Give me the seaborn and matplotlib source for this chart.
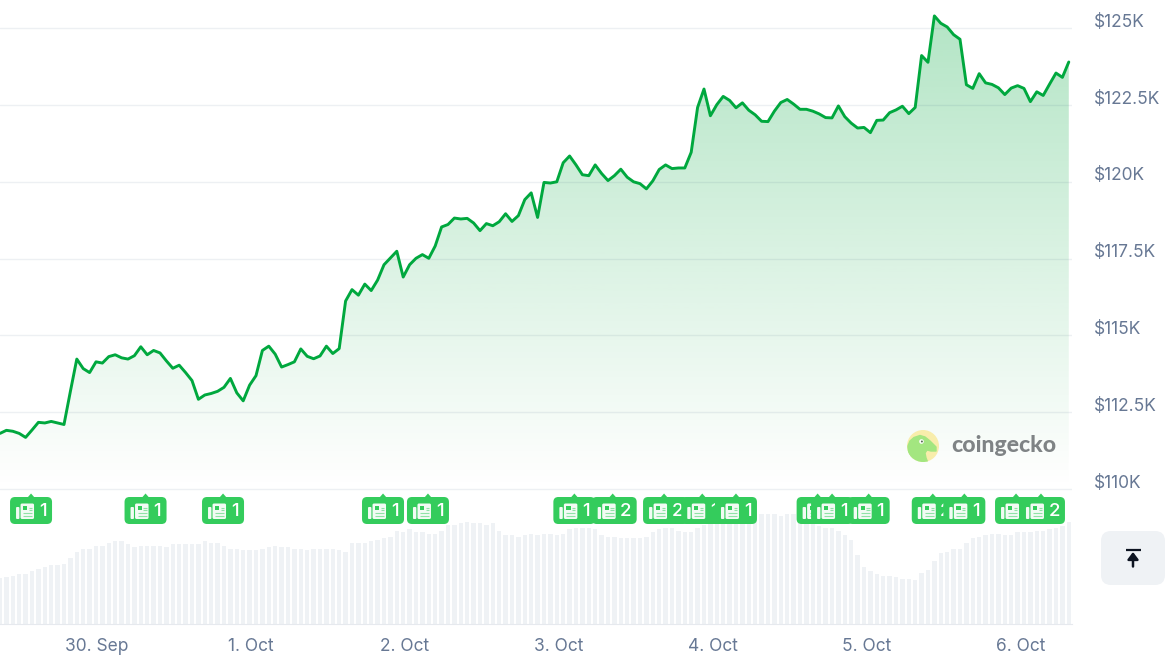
import matplotlib
matplotlib.use('Agg')
import matplotlib.pyplot as plt
import matplotlib.dates as mdates
import matplotlib.patches as mpatches
import matplotlib.transforms as mtrans
import numpy as np
import pandas as pd
import seaborn as sns

# bitcoin price in $K, one reading per point of the line
price = [
    111.81, 111.91, 111.88, 111.81, 111.68, 111.92, 112.17, 112.15, 112.20, 112.15,
    112.10, 113.18, 114.23, 113.92, 113.79, 114.14, 114.10, 114.31, 114.37, 114.27,
    114.23, 114.34, 114.63, 114.37, 114.51, 114.43, 114.17, 113.93, 114.03, 113.79,
    113.53, 112.92, 113.06, 113.11, 113.18, 113.31, 113.60, 113.13, 112.87, 113.38,
    113.69, 114.51, 114.65, 114.39, 113.97, 114.05, 114.14, 114.56, 114.32, 114.24,
    114.33, 114.65, 114.41, 114.57, 116.12, 116.49, 116.31, 116.67, 116.46, 116.80,
    117.30, 117.52, 117.74, 116.90, 117.30, 117.51, 117.63, 117.51, 117.91, 118.53,
    118.61, 118.82, 118.79, 118.81, 118.66, 118.41, 118.64, 118.57, 118.70, 118.96,
    118.71, 118.90, 119.42, 119.64, 118.84, 119.98, 119.96, 120.00, 120.62, 120.84,
    120.55, 120.23, 120.20, 120.55, 120.27, 120.04, 120.20, 120.41, 120.15, 120.00,
    119.94, 119.77, 120.03, 120.40, 120.55, 120.43, 120.45, 120.45, 120.96, 122.42,
    123.02, 122.15, 122.51, 122.78, 122.65, 122.41, 122.57, 122.33, 122.18, 121.97,
    121.96, 122.30, 122.58, 122.68, 122.53, 122.36, 122.36, 122.30, 122.21, 122.09,
    122.08, 122.47, 122.12, 121.91, 121.75, 121.77, 121.60, 122.00, 122.01, 122.25,
    122.34, 122.46, 122.22, 122.42, 124.11, 123.89, 125.40, 125.16, 125.04, 124.79,
    124.64, 123.16, 123.04, 123.52, 123.22, 123.17, 123.06, 122.84, 123.05, 123.13,
    123.04, 122.61, 122.93, 122.81, 123.18, 123.54, 123.40, 123.90,
]

# trading volume per point, $B
volume = [
    46, 47, 48, 50, 50, 53, 55, 57, 59, 59, 60, 66, 72, 75, 75, 78, 78, 81, 83, 83,
    80, 77, 78, 78, 78, 78, 77, 80, 80, 80, 80, 80, 83, 81, 81, 78, 75, 75, 74, 74,
    74, 75, 77, 78, 77, 77, 75, 75, 74, 75, 75, 75, 75, 74, 72, 81, 81, 81, 83, 84,
    86, 87, 93.5, 92, 95, 92, 92, 90.5, 90.5, 93.5, 99.5, 99.5, 101, 102.5, 101, 101,
    99.5, 101, 93.5, 89, 89, 87.5, 89, 90.5, 89, 90.5, 90.5, 89, 90.5, 95, 96.5, 96.5,
    96.5, 95, 89, 87.5, 87.5, 86, 86, 86, 86, 87.5, 92, 95, 96.5, 96.5, 93.5, 92, 92,
    96.5, 99.5, 101, 103, 104, 105, 107, 108, 109, 110, 110, 110, 110, 108.5, 110, 110,
    105, 102, 100, 98, 96.5, 96.5, 93.5, 89, 84.5, 69.5, 57.5, 53, 50, 48.5, 48.5, 47,
    45, 45, 44, 51, 54.5, 63.5, 71, 72.5, 75.5, 75.5, 81, 86, 87, 89, 90.5, 90.5, 89,
    89, 92, 92, 92, 93.5, 93.5, 95, 96.5, 98, 102.5,
]

first_time = '2025-09-29 09:00'
last_time = '2025-10-06 07:27'
right_edge = '2025-10-06 07:57'

price_ticks = [110, 112.5, 115, 117.5, 120, 122.5, 125]
price_labels = ['$110K', '$112.5K', '$115K', '$117.5K', '$120K', '$122.5K', '$125K']
day_ticks = ['2025-09-30', '2025-10-01', '2025-10-02', '2025-10-03', '2025-10-04', '2025-10-05', '2025-10-06']
day_labels = ['30. Sep', '1. Oct', '2. Oct', '3. Oct', '4. Oct', '5. Oct', '6. Oct']

news_times = [
    '2025-09-29 13:50', '2025-09-30 07:40', '2025-09-30 19:44', '2025-10-01 20:39',
    '2025-10-02 03:39', '2025-10-03 02:27', '2025-10-03 08:25', '2025-10-03 16:25',
    '2025-10-03 22:22', '2025-10-04 03:37', '2025-10-04 16:20', '2025-10-04 18:35',
    '2025-10-05 00:17', '2025-10-05 10:16', '2025-10-05 15:11', '2025-10-05 23:14',
    '2025-10-06 03:07',
]
news_counts = [1, 1, 1, 1, 1, 1, 2, 2, 1, 1, 1, 1, 1, 2, 1, 1, 2]

LINE = '#00a83e'
BAR = '#eff2f5'
LABEL = '#677894'
BADGE = '#34cc5c'

sns.set_style('whitegrid')
plt.rcParams['font.family'] = ['Inter', 'DejaVu Sans']


def to_num(t):
    return mdates.date2num(pd.to_datetime(t))


fig = plt.figure(figsize=(11.7, 6.55), dpi=100)
W, H = 1170, 655

days = mdates.date2num(pd.date_range(first_time, last_time, periods=len(price)))
x_lim = (to_num(first_time), to_num(right_edge))

# price panel
ax = fig.add_axes([0, (H - 495) / H, 1072 / W, 495 / H])
sns.lineplot(x=days, y=price, color=LINE, linewidth=2.1, ax=ax, zorder=3)

# fill under the line, fades to nothing at the $110K floor
top = max(price)
grad = np.zeros((256, 1, 4))
grad[:, 0, 0] = 0
grad[:, 0, 1] = 168 / 255
grad[:, 0, 2] = 62 / 255
grad[:, 0, 3] = np.linspace(0.3, 0, 256)
im = ax.imshow(grad, extent=[days[0], days[-1], 110, top], aspect='auto', zorder=0, origin='upper')
area = ax.fill_between(days, price, 110, color='none', linewidth=0)
im.set_clip_path(area.get_paths()[0], transform=ax.transData)

ax.set_xlim(x_lim)
ax.set_ylim(109.805, 125.918)
ax.set_xticks([])
ax.set_xlabel('')
ax.set_yticks(price_ticks)
ax.set_yticklabels(price_labels, fontsize=12.5, color=LABEL)
ax.yaxis.tick_right()
ax.tick_params(axis='y', length=0, pad=16)
ax.set_axisbelow('line')
ax.grid(False, axis='x')
ax.grid(True, axis='y', color='#26456b', alpha=0.08, linewidth=1.0)
ax.patch.set_alpha(0)
sns.despine(ax=ax, left=True, bottom=True, right=True, top=True)
lift = mtrans.ScaledTranslation(0, 0.08, fig.dpi_scale_trans)
for lab in ax.get_yticklabels():
    lab.set_transform(lab.get_transform() + lift)

# volume panel
ax2 = fig.add_axes([0, (H - 624) / H, 1072 / W, 124 / H])
sns.barplot(x=days, y=volume, native_scale=True, color=BAR, saturation=1, width=0.66,
            errorbar=None, linewidth=0, ax=ax2)
ax2.set_xlim(x_lim)
ax2.set_ylim(0, 124)
ax2.set_yticks([])
ax2.set_ylabel('')
ax2.set_xticks([to_num(d) for d in day_ticks])
ax2.set_xticklabels(day_labels, fontsize=12.5, color=LABEL)
ax2.tick_params(axis='x', length=9.4, width=0.8, color='#e6e9ee', pad=1.0)
ax2.grid(False)
ax2.patch.set_alpha(0)
sns.despine(ax=ax2, left=True, right=True, top=True)
ax2.spines['bottom'].set_color('#e6e9ee')
ax2.spines['bottom'].set_linewidth(0.8)

# overlay in pixels: badges, logo, button
ov = fig.add_axes([0, 0, 1, 1])
ov.set_xlim(0, W)
ov.set_ylim(H, 0)
ov.axis('off')
ov.patch.set_alpha(0)


def news_badge(cx, count, z):
    extra = 3 if count > 1 else 0
    ov.add_patch(mpatches.FancyBboxPatch((cx - 21 + 3, 497 + 3), 36 + extra, 21, boxstyle='round,pad=3,rounding_size=5',
                                         fc=BADGE, ec='none', zorder=z))
    ov.add_patch(mpatches.Polygon([(cx - 3.5, 497.5), (cx, 493.5), (cx + 3.5, 497.5)], fc=BADGE, ec='none', zorder=z))
    # little newspaper, solid page with green cut outs
    ov.add_patch(mpatches.FancyBboxPatch((cx - 10.5, 503.5), 13.5, 15.5, boxstyle='round,pad=0,rounding_size=1.5',
                                         fc='#f2fbf4', ec='none', zorder=z))
    ov.add_patch(mpatches.FancyBboxPatch((cx - 15, 507), 3.4, 12, boxstyle='round,pad=0,rounding_size=1',
                                         fc='#f2fbf4', ec='none', zorder=z))
    ov.add_patch(mpatches.Rectangle((cx - 8, 506.3), 4.2, 3.8, fc=BADGE, ec='none', zorder=z))
    for a, b, yy in [(-2.2, 1, 507.5), (-2.2, 1, 510), (-8, 1, 512.8), (-8, 1, 515.6)]:
        ov.plot([cx + a, cx + b], [yy, yy], color='#8fe3a6', lw=0.8, zorder=z, solid_capstyle='butt')
    ov.text(cx + 11.6 + extra / 2, 511.3, str(count), color='white', fontsize=13.5, fontweight='medium',
            ha='center', va='center', zorder=z)


for i, (t, n) in enumerate(zip(news_times, news_counts)):
    px = ax2.transData.transform((to_num(t), 0))[0]
    news_badge(px, n, 5 + i)

# coingecko mark
circle = mpatches.Circle((923, 446), 16, fc='#f8edab', ec='none', zorder=4)
ov.add_patch(circle)
gecko = mpatches.Polygon([(908, 446), (910, 441), (914, 437.5), (920, 435.5), (925, 437), (930, 441), (936, 447),
                          (936, 451), (931, 451), (927, 450), (925, 453), (926, 458), (928, 463),
                          (917, 463), (911, 458), (908, 452)],
                         fc='#a3e680', ec='#a3e680', lw=1.0, joinstyle='round', zorder=5)
ov.add_patch(gecko)
gecko.set_clip_path(circle)
ov.add_patch(mpatches.Circle((921.5, 441.5), 2.3, fc='white', ec='none', zorder=6))
ov.add_patch(mpatches.Circle((921.9, 441.5), 1.0, fc='#5b6b55', ec='none', zorder=7))
ov.text(951, 446, 'coingecko', color='#7f8385', fontsize=16.6, fontweight='black', family='Lato',
        ha='left', va='center', zorder=5)

# back to top button
ov.add_patch(mpatches.FancyBboxPatch((1111, 541), 44, 34, boxstyle='round,pad=10,rounding_size=10',
                                     fc=BAR, ec='none', zorder=4))
ov.plot([1125.5, 1140.5], [549.5, 549.5], color='#0d1421', lw=1.6, zorder=5, solid_capstyle='butt')
ov.annotate('', xy=(1133, 552), xytext=(1133, 566.5), zorder=5,
            arrowprops=dict(arrowstyle='-|>,head_width=0.32,head_length=0.42', color='#0d1421', lw=1.8,
                            shrinkA=0, shrinkB=0))

fig.savefig('out.png', dpi=100)
